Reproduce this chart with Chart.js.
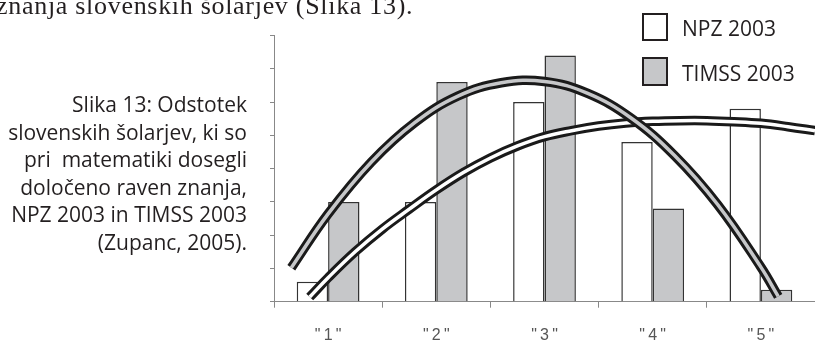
<!DOCTYPE html>
<html>
<head>
<meta charset="utf-8">
<script src="https://cdn.jsdelivr.net/npm/chart.js@4.4.1/dist/chart.umd.min.js"></script>
<style>
    body { margin: 0; background: #fff; }
    #wrap { position: relative; width: 815px; height: 340px; overflow: hidden; }
    canvas { position: absolute; left: 0; top: 0; }
    .txt { position: absolute; white-space: pre; color: #231f20; }
    .top { left: -4px; top: -7.3px; font-family: "Liberation Serif"; font-size: 26px; letter-spacing: 0.7px; line-height: 25px; }
    .caption { right: 568px; top: 91px; text-align: right; font-family: "Open Sans"; font-size: 21px; line-height: 27.6px; }
    .box { position: absolute; box-sizing: border-box; left: 642px; width: 26px; border: 2px solid #231f20; }
    .leg { left: 682px; font-family: "Open Sans"; font-size: 21px; line-height: 30px; }
</style>
</head>
<body>
<div id="wrap">
    <canvas id="graphic-bars" width="815" height="340"></canvas>
    <canvas id="graphic-trend" width="815" height="340"></canvas>
    <div class="txt top">znanja slovenskih šolarjev (Slika 13).</div>
    <div class="txt caption">Slika 13: Odstotek
slovenskih šolarjev, ki so
pri  matematiki dosegli
določeno raven znanja,
NPZ 2003 in TIMSS 2003
(Zupanc, 2005).</div>
    <div class="box" style="top: 13px; height: 28px; background: #fff;"></div>
    <div class="box" style="top: 57px; height: 29px; background: #c6c7c9;"></div>
    <div class="txt leg" style="top: 13px;">NPZ 2003</div>
    <div class="txt leg" style="top: 58px;">TIMSS 2003</div>
</div>
<script>
const labels = ['"\u20091\u2009"', '"\u20092\u2009"', '"\u20093\u2009"', '"\u20094\u2009"', '"\u20095\u2009"'];
const npz = [3.0, 15.0, 30.0, 24.0, 29.0];
const timss = [15.0, 33.0, 37.0, 14.0, 1.8];

// trend curves (x = category position, y = value)
const npzTrendX = [0.83, 1.0, 1.25, 1.5, 1.75, 2.0, 2.25, 2.5, 2.75, 3.0, 3.25, 3.5, 3.75, 4.0, 4.25, 4.5, 4.75, 5.0, 5.25, 5.5, 5.56];
const npzTrendY = [0.7, 3.6, 7.5, 10.9, 13.9, 16.8, 19.4, 21.6, 23.4, 24.8, 25.7, 26.4, 26.85, 27.1, 27.2, 27.2, 27.05, 26.8, 26.3, 25.7, 25.55];
const timssTrendX = [0.66, 1.0, 1.4, 1.8, 2.2, 2.6, 3.0, 3.4, 3.8, 4.2, 4.6, 5.0, 5.16];
const timssTrendY = [5.1, 13.2, 21.0, 26.9, 30.9, 32.9, 33.1, 31.3, 27.6, 22.0, 14.6, 5.2, 0.8];

const yMin = 0;
const yMax = 40;
const yStep = 5;

// same plot box for both canvases
const plotLeft = 274;
const plotTop = 35.5;
const axisBottom = 38.3;

const toPoints = (xs, ys) => xs.map((x, i) => ({ x: x, y: ys[i] }));

const bars = (label, values, color) => ({
    label: label,
    data: values,
    backgroundColor: color,
    borderColor: '#333333',
    borderWidth: 1.5,
    categoryPercentage: 0.58,
    barPercentage: 1
});

const config = {
    type: 'bar',
    data: {
        labels: labels,
        datasets: [
            bars('NPZ 2003', npz, '#ffffff'),
            bars('TIMSS 2003', timss, '#c6c7c9')
        ]
    },
    options: {
        responsive: false,
        animation: false,
        layout: { padding: { top: plotTop, right: 0, left: 0, bottom: 0 } },
        plugins: {
            legend: { display: false },
            tooltip: { enabled: false }
        },
        scales: {
            x: {
                grid: { drawOnChartArea: false, tickLength: 6, color: '#888888' },
                border: { color: '#888888', width: 1 },
                ticks: {
                    color: '#555555',
                    padding: 18,
                    font: { family: 'Liberation Sans', size: 16 }
                },
                afterFit: (s) => { s.height = axisBottom; }
            },
            y: {
                min: yMin,
                max: yMax,
                ticks: { stepSize: yStep, display: false },
                grid: { drawOnChartArea: false, tickLength: 4, color: '#888888' },
                border: { color: '#888888', width: 1 },
                afterFit: (s) => { s.width = plotLeft; }
            }
        }
    }
};

new Chart(document.getElementById('graphic-bars'), config);

const curve = (pts, color, width, order) => ({
    data: pts,
    borderColor: color,
    borderWidth: width,
    pointRadius: 0,
    tension: 0.4,
    fill: false,
    clip: false,
    order: order
});

const configTrend = {
    type: 'line',
    data: {
        datasets: [
            curve(toPoints(npzTrendX, npzTrendY), '#1a1a1a', 9.5, 4),
            curve(toPoints(npzTrendX, npzTrendY), '#ffffff', 3.5, 3),
            curve(toPoints(timssTrendX, timssTrendY), '#1a1a1a', 9.5, 2),
            curve(toPoints(timssTrendX, timssTrendY), '#c6c7c9', 3.5, 1)
        ]
    },
    options: {
        responsive: false,
        animation: false,
        layout: { padding: { top: plotTop, right: 0, left: plotLeft, bottom: axisBottom } },
        plugins: {
            legend: { display: false },
            tooltip: { enabled: false }
        },
        scales: {
            x: { type: 'linear', display: false, min: 0.5, max: 5.5 },
            y: { display: false, min: yMin, max: yMax }
        }
    }
};

new Chart(document.getElementById('graphic-trend'), configTrend);
</script>
</body>
</html>
